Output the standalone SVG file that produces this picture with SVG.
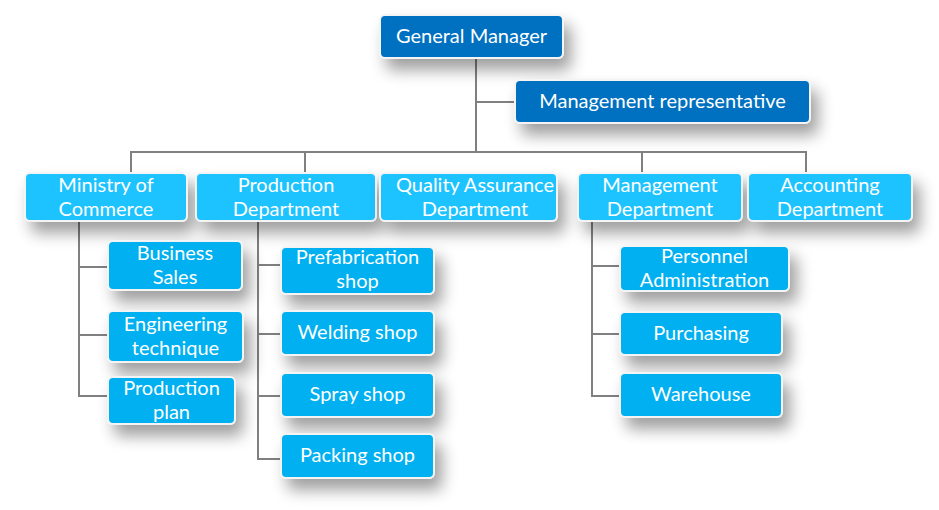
<svg xmlns="http://www.w3.org/2000/svg" width="939" height="510" viewBox="0 0 939 510">
<style>
.box{stroke:#f4f4f4;stroke-width:2;filter:url(#sh)}
.l0{fill:#0070c0}
.l1{fill:#1ec3ff}
.l2{fill:#00b0f0}
text{font-family:Lato,"Open Sans","Noto Sans",sans-serif;font-size:20px;fill:#ffffff;text-anchor:middle}
.c{stroke:#808080;stroke-width:2;fill:none}
</style>
<defs>
<filter id="sh" x="-30%" y="-40%" width="170%" height="220%">
<feGaussianBlur in="SourceAlpha" stdDeviation="8"/>
<feOffset dx="7" dy="11" result="b"/>
<feComponentTransfer><feFuncA type="linear" slope="0.38"/></feComponentTransfer>
<feMerge><feMergeNode/><feMergeNode in="SourceGraphic"/></feMerge>
</filter>
</defs>
<rect width="939" height="510" fill="#ffffff"/>
<g id="connectors">
<path class="c" d="M476 58V152M476 102H515M131 172V152H806V172M305 152V172M642 152V172"/>
<path class="c" d="M79 221V396H108M79 267H108M79 335H108"/>
<path class="c" d="M258 221V459H281M258 265H281M258 334H281M258 396H281"/>
<path class="c" d="M592 221V396H620M592 266H620M592 334H620"/>
</g>
<g id="gm"><rect class="box l0" x="380" y="15" width="183" height="43" rx="5"/><text x="471.5" y="43">General Manager</text></g>
<g id="mrep"><rect class="box l0" x="515" y="80" width="295" height="43" rx="5"/><text x="662.5" y="108">Management representative</text></g>
<g id="moc"><rect class="box l1" x="25" y="173" width="162" height="48" rx="5"/><text x="106" y="192">Ministry of</text><text x="106" y="216">Commerce</text></g>
<g id="prod"><rect class="box l1" x="196" y="173" width="180" height="48" rx="5"/><text x="286" y="192">Production</text><text x="286" y="216">Department</text></g>
<g id="qa"><rect class="box l1" x="380" y="173" width="177" height="48" rx="5"/><text x="475" y="192">Quality Assurance</text><text x="475" y="216">Department</text></g>
<g id="mgmt"><rect class="box l1" x="578" y="173" width="164" height="48" rx="5"/><text x="660" y="192">Management</text><text x="660" y="216">Department</text></g>
<g id="acct"><rect class="box l1" x="748" y="173" width="164" height="48" rx="5"/><text x="830" y="192">Accounting</text><text x="830" y="216">Department</text></g>
<g id="sales"><rect class="box l2" x="108" y="241" width="134" height="49" rx="5"/><text x="175" y="260">Business</text><text x="175" y="284">Sales</text></g>
<g id="eng"><rect class="box l2" x="108" y="311" width="135" height="51" rx="5"/><text x="175.5" y="331">Engineering</text><text x="175.5" y="355">technique</text></g>
<g id="plan"><rect class="box l2" x="108" y="377" width="127" height="47" rx="5"/><text x="171.5" y="395">Production</text><text x="171.5" y="419">plan</text></g>
<g id="prefab"><rect class="box l2" x="281" y="247" width="153" height="47" rx="5"/><text x="357.5" y="264">Prefabrication</text><text x="357.5" y="288">shop</text></g>
<g id="weld"><rect class="box l2" x="281" y="311" width="153" height="44" rx="5"/><text x="357.5" y="339">Welding shop</text></g>
<g id="spray"><rect class="box l2" x="281" y="373" width="153" height="44" rx="5"/><text x="357.5" y="401">Spray shop</text></g>
<g id="pack"><rect class="box l2" x="281" y="434" width="153" height="44" rx="5"/><text x="357.5" y="462">Packing shop</text></g>
<g id="pers"><rect class="box l2" x="620" y="246" width="169" height="45" rx="5"/><text x="704.5" y="263">Personnel</text><text x="704.5" y="287">Administration</text></g>
<g id="purch"><rect class="box l2" x="620" y="312" width="162" height="43" rx="5"/><text x="701" y="340">Purchasing</text></g>
<g id="ware"><rect class="box l2" x="620" y="373" width="162" height="44" rx="5"/><text x="701" y="401">Warehouse</text></g>
</svg>
